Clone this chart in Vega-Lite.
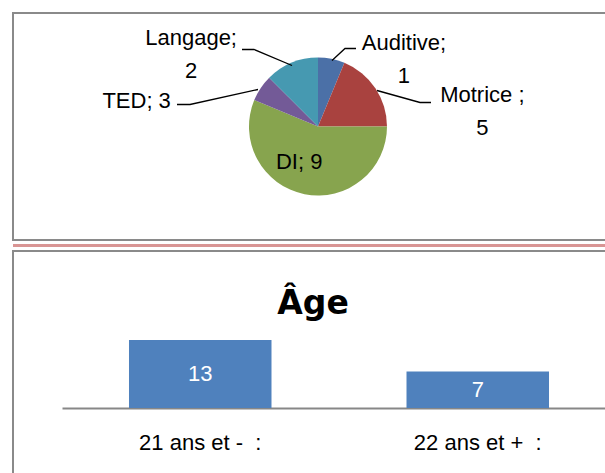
{
  "$schema": "https://vega.github.io/schema/vega-lite/v6.json",
  "background": "white",
  "padding": {"left": 12, "top": 12, "right": 0, "bottom": 0},
  "spacing": 4,
  "bounds": "flush",
  "config": {"font": "Liberation Sans"},
  "datasets": {
    "handicap": [
      {"cat": "Auditive", "n": 1, "ord": 1, "label": "Auditive;\n1"},
      {"cat": "Motrice", "n": 3, "ord": 2, "label": "Motrice ;\n5"},
      {"cat": "DI", "n": 9, "ord": 3, "label": "DI; 9"},
      {"cat": "TED", "n": 1, "ord": 4, "label": "TED; 3"},
      {"cat": "Langage", "n": 2, "ord": 5, "label": "Langage;\n2"}
    ],
    "age": [
      {"groupe": "21 ans et - \u00a0:", "n": 13},
      {"groupe": "22 ans et + \u00a0:", "n": 7}
    ]
  },
  "vconcat": [
    {
      "width": 610,
      "height": 227,
      "view": {"stroke": "#8a8a8a", "strokeWidth": 2},
      "data": {"name": "handicap"},
      "layer": [
        {
          "mark": {"type": "arc", "outerRadius": 69},
          "encoding": {
            "theta": {"field": "n", "type": "quantitative", "stack": true},
            "order": {"field": "ord", "type": "quantitative"},
            "color": {"field": "cat", "type": "nominal", "legend": null,
              "scale": {"domain": ["Auditive", "Motrice", "DI", "TED", "Langage"],
                        "range": ["#4b70a7", "#a9423f", "#87a44e", "#735a97", "#4699b1"]}}
          }
        },
        {
          "mark": {"type": "point", "filled": false, "size": 4, "strokeWidth": 1.3, "color": "black", "opacity": 1},
          "encoding": {
            "shape": {"field": "cat", "type": "nominal", "legend": null,
              "scale": {"domain": ["Auditive", "Motrice", "DI", "TED", "Langage"],
                        "range": ["M14,-66L27,-78L38,-78", "M59,-36L102,-24L113,-24", "M0,0", "M-60,-37L-128,-22L-141,-22", "M-26,-61L-64,-77L-76,-77"]}}
          }
        },
        {
          "mark": {"type": "text", "radius": 69, "dx": 72.5, "dy": -15.5, "fontSize": 22, "lineBreak": "\n", "lineHeight": 33, "align": "center", "baseline": "middle", "color": "black"},
          "encoding": {
            "theta": {"field": "n", "type": "quantitative", "stack": true},
            "order": {"field": "ord", "type": "quantitative"},
            "detail": {"field": "cat", "type": "nominal"},
            "text": {"condition": {"test": "datum.cat === 'Auditive'", "field": "label"}, "value": ""}
          }
        },
        {
          "mark": {"type": "text", "radius": 69, "dx": 107, "dy": 6.5, "fontSize": 22, "lineBreak": "\n", "lineHeight": 33, "align": "center", "baseline": "middle", "color": "black"},
          "encoding": {
            "theta": {"field": "n", "type": "quantitative", "stack": true},
            "order": {"field": "ord", "type": "quantitative"},
            "detail": {"field": "cat", "type": "nominal"},
            "text": {"condition": {"test": "datum.cat === 'Motrice'", "field": "label"}, "value": ""}
          }
        },
        {
          "mark": {"type": "text", "radius": 40, "dx": -11, "dy": -4, "fontSize": 22, "align": "center", "baseline": "middle", "color": "black"},
          "encoding": {
            "theta": {"field": "n", "type": "quantitative", "stack": true},
            "order": {"field": "ord", "type": "quantitative"},
            "detail": {"field": "cat", "type": "nominal"},
            "text": {"condition": {"test": "datum.cat === 'DI'", "field": "label"}, "value": ""}
          }
        },
        {
          "mark": {"type": "text", "radius": 69, "dx": -124, "dy": 13, "fontSize": 22, "align": "center", "baseline": "middle", "color": "black"},
          "encoding": {
            "theta": {"field": "n", "type": "quantitative", "stack": true},
            "order": {"field": "ord", "type": "quantitative"},
            "detail": {"field": "cat", "type": "nominal"},
            "text": {"condition": {"test": "datum.cat === 'TED'", "field": "label"}, "value": ""}
          }
        },
        {
          "mark": {"type": "text", "radius": 69, "dx": -100.5, "dy": -24.5, "fontSize": 22, "lineBreak": "\n", "lineHeight": 33, "align": "center", "baseline": "middle", "color": "black"},
          "encoding": {
            "theta": {"field": "n", "type": "quantitative", "stack": true},
            "order": {"field": "ord", "type": "quantitative"},
            "detail": {"field": "cat", "type": "nominal"},
            "text": {"condition": {"test": "datum.cat === 'Langage'", "field": "label"}, "value": ""}
          }
        }
      ]
    },
    {
      "width": 610,
      "height": 3,
      "view": {"fill": "#d99594", "stroke": null},
      "data": {"values": [{}]},
      "mark": {"type": "text"},
      "encoding": {}
    },
    {
      "width": 610,
      "height": 230,
      "view": {"stroke": "#8a8a8a", "strokeWidth": 2},
      "data": {"name": "age"},
      "title": {"text": "Âge", "font": "DejaVu Sans", "fontWeight": "bold", "fontSize": 33, "color": "black", "frame": "group", "anchor": "middle", "offset": -96, "baseline": "alphabetic", "dx": -5},
      "encoding": {
        "x": {"field": "groupe", "type": "nominal",
          "scale": {"range": [49, 603], "paddingInner": 0.4865, "paddingOuter": 0.2414},
          "axis": {"title": null, "labelAngle": 0, "ticks": false, "tickSize": 0, "labelPadding": 24, "labelFontSize": 22, "labelFont": "Liberation Sans", "labelColor": "black", "domainColor": "#878787", "domainWidth": 2, "offset": -73, "grid": false}}
      },
      "layer": [
        {
          "mark": {"type": "bar", "color": "#4f81bd"},
          "encoding": {
            "y": {"field": "n", "type": "quantitative", "scale": {"nice": false, "range": [157, 89]}, "axis": null}
          }
        },
        {
          "mark": {"type": "text", "color": "white", "fontSize": 22, "baseline": "middle"},
          "encoding": {
            "y": {"field": "n", "type": "quantitative", "stack": "zero", "bandPosition": 0.5},
            "text": {"field": "n", "type": "quantitative"}
          }
        }
      ]
    }
  ]
}
